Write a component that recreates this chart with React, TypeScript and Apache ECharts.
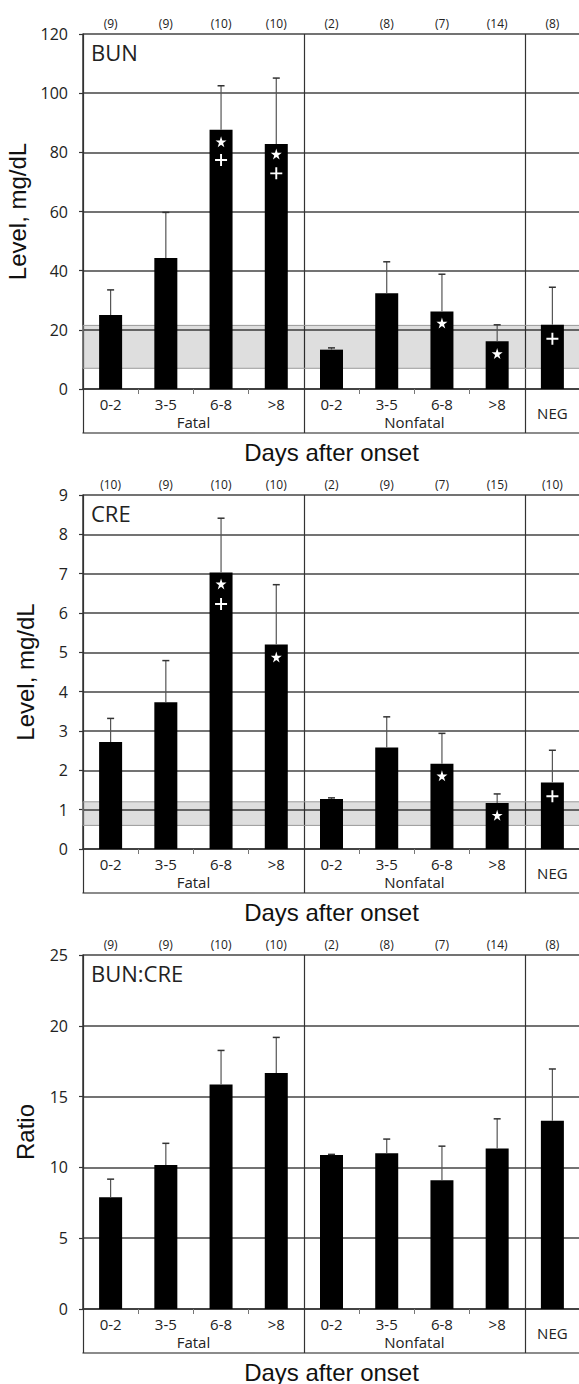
import React, { useEffect, useRef } from 'react';
import * as echarts from 'echarts';

// ---------- data ----------
const categories = ['0-2', '3-5', '6-8', '>8', '0-2', '3-5', '6-8', '>8', 'NEG'];
const groupLabels = ['Fatal', 'Nonfatal'];
const negLabel = 'NEG';
const xTitle = 'Days after onset';

const bunN = ['(9)', '(9)', '(10)', '(10)', '(2)', '(8)', '(7)', '(14)', '(8)'];
const bunMean = [25, 44.3, 87.6, 82.8, 13.3, 32.4, 26.2, 16.1, 21.7];
const bunUpper = [33.5, 59.7, 102.5, 105.1, 13.9, 43, 38.8, 21.7, 34.4];
const bunStar = [null, null, 83.6, 79.4, null, null, 22.3, 12, null];
const bunPlus = [null, null, 77.4, 72.9, null, null, null, null, 17];
const bunNormal = [7, 21.5];
const bunTicks = [0, 20, 40, 60, 80, 100, 120];

const creN = ['(10)', '(9)', '(10)', '(10)', '(2)', '(9)', '(7)', '(15)', '(10)'];
const creMean = [2.72, 3.73, 7.03, 5.2, 1.27, 2.58, 2.17, 1.17, 1.69];
const creUpper = [3.32, 4.79, 8.41, 6.72, 1.3, 3.36, 2.94, 1.4, 2.51];
const creStar = [null, null, 6.74, 4.88, null, null, 1.86, 0.86, null];
const crePlus = [null, null, 6.23, null, null, null, null, null, 1.34];
const creNormal = [0.6, 1.2];
const creTicks = [0, 1, 2, 3, 4, 5, 6, 7, 8, 9];

const ratioN = ['(9)', '(9)', '(10)', '(10)', '(2)', '(8)', '(7)', '(14)', '(8)'];
const ratioMean = [7.9, 10.17, 15.85, 16.67, 10.87, 11.0, 9.1, 11.34, 13.3];
const ratioUpper = [9.17, 11.7, 18.26, 19.18, 10.92, 12.0, 11.5, 13.43, 16.95];
const ratioTicks = [0, 5, 10, 15, 20, 25];

const STAR = 'path://M50,0 L61,35 L98,35 L68,57 L79,91 L50,70 L21,91 L32,57 L2,35 L39,35 Z';
const PLUS = 'path://M42,0 H58 V42 H100 V58 H58 V100 H42 V58 H0 V42 H42 Z';

const FONT = 'Open Sans';
const FONT2 = 'Liberation Sans';

type Panel = {
  label: string;
  yName: string;
  n: string[];
  mean: number[];
  upper: number[];
  star: (number | null)[];
  plus: (number | null)[];
  normal: number[] | null;
  ticks: number[];
  top: number;
  height: number;
};

const panels: Panel[] = [
  { label: 'BUN', yName: 'Level, mg/dL', n: bunN, mean: bunMean, upper: bunUpper, star: bunStar, plus: bunPlus, normal: bunNormal, ticks: bunTicks, top: 34, height: 355 },
  { label: 'CRE', yName: 'Level, mg/dL', n: creN, mean: creMean, upper: creUpper, star: creStar, plus: crePlus, normal: creNormal, ticks: creTicks, top: 495, height: 354 },
  { label: 'BUN:CRE', yName: 'Ratio', n: ratioN, mean: ratioMean, upper: ratioUpper, star: [], plus: [], normal: null, ticks: ratioTicks, top: 955, height: 354 },
];

function buildOption() {
  const grid: any[] = [];
  const xAxis: any[] = [];
  const yAxis: any[] = [];
  const series: any[] = [];
  const title: any[] = [];

  panels.forEach((p, k) => {
    grid.push({ left: 83, top: p.top, width: 497, height: p.height, containLabel: false, outerBoundsMode: 'none' });
    title.push({
      text: p.label, left: 91, top: p.top + 7, padding: 0,
      textStyle: { fontFamily: FONT, fontSize: 22, fontWeight: 'normal', color: '#222' },
    });
    const gi = k;
    // A: categories
    xAxis.push({
      type: 'category', gridIndex: gi, data: categories, position: 'bottom',
      axisLine: { onZero: false, lineStyle: { color: '#333', width: 1.5 } },
      axisTick: { show: true, length: 5, lineStyle: { color: '#777', width: 1 } },
      axisLabel: {
        margin: 7, fontFamily: FONT, fontSize: 15, lineHeight: 15, color: '#222', interval: 0,
        formatter: (v: string, i: number) => (i === 8 ? '' : v),
      },
      splitLine: { show: false },
    });
    // T: sample size labels on top
    xAxis.push({
      type: 'category', gridIndex: gi, data: p.n, position: 'top',
      axisLine: { show: false, onZero: false }, axisTick: { show: false },
      axisLabel: { margin: 5, fontFamily: FONT, fontSize: 12, color: '#222', interval: 0 },
      splitLine: { show: false },
    });
    // B: group separators + group labels
    xAxis.push({
      type: 'value', gridIndex: gi, min: 0, max: 9, interval: 4, position: 'bottom',
      axisLine: { show: false, onZero: false },
      axisTick: { show: true, length: 44, lineStyle: { color: '#333', width: 1.2 } },
      splitLine: { show: true, lineStyle: { color: '#333', width: 1.2 } },
      axisLabel: {
        customValues: [2, 6], margin: 25, fontFamily: FONT, fontSize: 15, lineHeight: 15, color: '#222',
        formatter: (v: number) => (v < 4 ? groupLabels[0] : groupLabels[1]),
      },
    });
    // C: NEG label + axis title
    xAxis.push({
      type: 'value', gridIndex: gi, min: 0, max: 9, position: 'bottom',
      axisLine: { show: false, onZero: false }, axisTick: { show: false }, splitLine: { show: false },
      axisLabel: {
        customValues: [8.5], margin: 16, fontFamily: FONT, fontSize: 15, lineHeight: 15, color: '#222',
        formatter: () => negLabel,
      },
      name: xTitle, nameLocation: 'middle', nameGap: 51,
      nameTextStyle: { fontFamily: FONT2, fontSize: 24, color: '#111' },
    });
    // D: box bottom line
    xAxis.push({
      type: 'value', gridIndex: gi, min: 0, max: 9, position: 'bottom', offset: 44,
      axisLine: { show: true, onZero: false, lineStyle: { color: '#666', width: 1.5 } },
      axisTick: { show: false }, axisLabel: { show: false }, splitLine: { show: false },
    });

    const t = p.ticks;
    yAxis.push({
      type: 'value', gridIndex: gi, min: t[0], max: t[t.length - 1], interval: t[1] - t[0],
      axisLine: { show: true, lineStyle: { color: '#333', width: 1.5 } },
      axisTick: { show: true, length: 4, lineStyle: { color: '#333', width: 1.2 } },
      axisLabel: { margin: 15, fontFamily: FONT, fontSize: 16, color: '#222' },
      splitLine: { show: true, lineStyle: { color: '#444', width: 1.5 } },
      name: p.yName, nameLocation: 'middle', nameGap: 46,
      nameTextStyle: { fontFamily: FONT2, fontSize: 24, color: '#111' },
    });

    const xi = k * 5;
    const bar: any = {
      type: 'bar', xAxisIndex: xi, yAxisIndex: gi, data: p.mean, barWidth: 23,
      itemStyle: { color: '#000' }, z: 3,
    };
    if (p.normal) {
      bar.markArea = {
        silent: true,
        itemStyle: { color: 'rgba(0,0,0,0.13)', borderColor: '#999', borderWidth: 1 },
        data: [[{ yAxis: p.normal[0] }, { yAxis: p.normal[1] }]],
      };
    }
    series.push(bar);
    series.push({
      type: 'custom', xAxisIndex: xi, yAxisIndex: gi, z: 4,
      data: p.mean.map((m, i) => [i, m, p.upper[i]]),
      encode: { x: 0, y: [1, 2] },
      renderItem: (params: any, api: any) => {
        const x = api.value(0);
        const a = api.coord([x, api.value(1)]);
        const b = api.coord([x, api.value(2)]);
        return {
          type: 'group',
          children: [
            { type: 'line', shape: { x1: a[0], y1: a[1], x2: b[0], y2: b[1] }, style: { stroke: '#555', lineWidth: 1.2 } },
            { type: 'line', shape: { x1: b[0] - 3.5, y1: b[1], x2: b[0] + 3.5, y2: b[1] }, style: { stroke: '#333', lineWidth: 1.5 } },
          ],
        };
      },
    });
    const starData = p.star.map((v, i) => (v == null ? null : [i, v])).filter(Boolean);
    const plusData = p.plus.map((v, i) => (v == null ? null : [i, v])).filter(Boolean);
    if (starData.length) {
      series.push({
        type: 'scatter', xAxisIndex: xi, yAxisIndex: gi, data: starData, symbol: STAR, symbolSize: 11,
        itemStyle: { color: '#fff', opacity: 1 }, z: 5,
      });
    }
    if (plusData.length) {
      series.push({
        type: 'scatter', xAxisIndex: xi, yAxisIndex: gi, data: plusData, symbol: PLUS, symbolSize: 12,
        itemStyle: { color: '#fff', opacity: 1 }, z: 5,
      });
    }
  });

  return {
    animation: false,
    backgroundColor: '#fff',
    title, grid, xAxis, yAxis, series,
  };
}

export default function App() {
  const ref = useRef<HTMLDivElement>(null);
  useEffect(() => {
    document.body.style.margin = '0';
    if (!ref.current) return;
    const chart = echarts.init(ref.current, null, { renderer: 'svg' });
    chart.setOption(buildOption());
    return () => chart.dispose();
  }, []);
  return <div ref={ref} style={{ width: 579, height: 1384 }} />;
}
